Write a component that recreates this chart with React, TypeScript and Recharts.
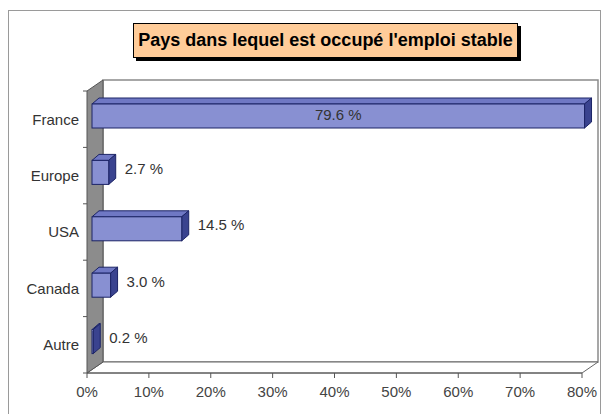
import React from 'react';
import { BarChart, Bar, XAxis, YAxis, ReferenceArea, LabelList } from 'recharts';

const categories = ['France', 'Europe', 'USA', 'Canada', 'Autre'];
const values = [79.6, 2.7, 14.5, 3.0, 0.2];
const xTicks = [0, 10, 20, 30, 40, 50, 60, 70, 80];
const title = "Pays dans lequel est occupé l'emploi stable";

const data = categories.map((name, i) => ({ name, value: values[i] }));

const FONT = '"Liberation Sans", Arial, sans-serif';
const WD = 16; // wall depth x
const WV = 11; // wall depth y
const BS = 5; // bar shift x
const BV = -3; // bar shift y
const BD = 7; // bar depth x
const BDV = -6; // bar depth y

const Walls = (props: any) => {
  const { x, y, width, height } = props;
  const n = categories.length;
  const ticks = [];
  for (let i = 0; i <= n; i++) {
    const ty = y + (i * height) / n;
    ticks.push(<line key={i} x1={x - 4} x2={x} y1={ty} y2={ty} stroke="#555" strokeWidth={1} />);
  }
  return (
    <g>
      <rect x={x + WD} y={y - WV} width={width} height={height} fill="#ffffff" stroke="#8a8a8a" strokeWidth={1.5} />
      <polygon
        points={`${x},${y + height} ${x + WD},${y + height - WV} ${x + width + WD},${y + height - WV} ${x + width},${y + height}`}
        fill="#ffffff"
        stroke="#666"
        strokeWidth={1}
      />
      <polygon
        points={`${x},${y} ${x + WD},${y - WV} ${x + WD},${y + height - WV} ${x},${y + height}`}
        fill="#8c8c8c"
        stroke="#555"
        strokeWidth={1}
      />
      {ticks}
    </g>
  );
};

const Bar3D = (props: any) => {
  const { x, y, width, height } = props;
  const fx = x + BS;
  const fy = y + BV;
  const w = Math.max(width, 0);
  return (
    <g>
      <polygon
        points={`${fx},${fy} ${fx + BD},${fy + BDV} ${fx + w + BD},${fy + BDV} ${fx + w},${fy}`}
        fill="#6f78c4"
        stroke="#1c2466"
        strokeWidth={1}
      />
      <polygon
        points={`${fx + w},${fy} ${fx + w + BD},${fy + BDV} ${fx + w + BD},${fy + height + BDV} ${fx + w},${fy + height}`}
        fill="#3a438f"
        stroke="#1c2466"
        strokeWidth={1}
      />
      <rect x={fx} y={fy} width={w} height={height} fill="#8890d2" stroke="#1c2466" strokeWidth={1} />
    </g>
  );
};

const ValueLabel = (props: any) => {
  const { x, y, width, height, value, index } = props;
  const txt = `${Number(value).toFixed(1)} %`;
  const cy = y + height / 2 + BV - 2;
  if (index === 0) {
    return (
      <text x={x + BS + width / 2} y={cy} textAnchor="middle" dominantBaseline="central" fontSize={15} fill="#333" fontFamily={FONT}>
        {txt}
      </text>
    );
  }
  return (
    <text x={x + BS + width + BD + 9} y={cy - 2} textAnchor="start" dominantBaseline="central" fontSize={15} fill="#333" fontFamily={FONT}>
      {txt}
    </text>
  );
};

export default function App() {
  return (
    <div style={{ position: 'absolute', left: 0, top: 0, width: 609, height: 414, overflow: 'hidden', background: '#fff' }}>
      <div
        style={{
          position: 'absolute',
          left: 8,
          top: 10,
          width: 593,
          height: 420,
          border: '1px solid #9a9a9a',
          boxSizing: 'border-box',
        }}
      />
      <div
        style={{
          position: 'absolute',
          left: 133,
          top: 23,
          width: 385,
          height: 35,
          boxSizing: 'border-box',
          background: '#ffcc99',
          border: '1px solid #000',
          boxShadow: '3px 3px 0 #000',
          fontFamily: FONT,
          fontWeight: 'bold',
          fontSize: 18,
          color: '#000',
          display: 'flex',
          alignItems: 'center',
          justifyContent: 'center',
          whiteSpace: 'nowrap',
        }}
      >
        {title}
      </div>
      <div style={{ position: 'absolute', left: 0, top: 0 }}>
        <BarChart
          width={609}
          height={414}
          data={data}
          layout="vertical"
          margin={{ top: 91, right: 27, bottom: 0, left: 0 }}
          barSize={24}
        >
          <XAxis
            type="number"
            domain={[0, 80]}
            ticks={xTicks}
            tickFormatter={(v: number) => `${v}%`}
            height={41}
            axisLine={{ stroke: '#555' }}
            tickLine={{ stroke: '#555' }}
            tickSize={5}
            tickMargin={8}
            tick={{ fill: '#444', fontSize: 15, fontFamily: FONT }}
            interval={0}
          />
          <YAxis
            type="category"
            dataKey="name"
            width={87}
            axisLine={false}
            tickLine={false}
            tickSize={0}
            tickMargin={8}
            tick={{ fill: '#333', fontSize: 15, fontFamily: FONT }}
            interval={0}
          />
          <ReferenceArea x1={0} x2={80} shape={<Walls />} ifOverflow="visible" fill="none" stroke="none" />
          <Bar dataKey="value" isAnimationActive={false} shape={<Bar3D />}>
            <LabelList dataKey="value" content={<ValueLabel />} />
          </Bar>
        </BarChart>
      </div>
    </div>
  );
}
